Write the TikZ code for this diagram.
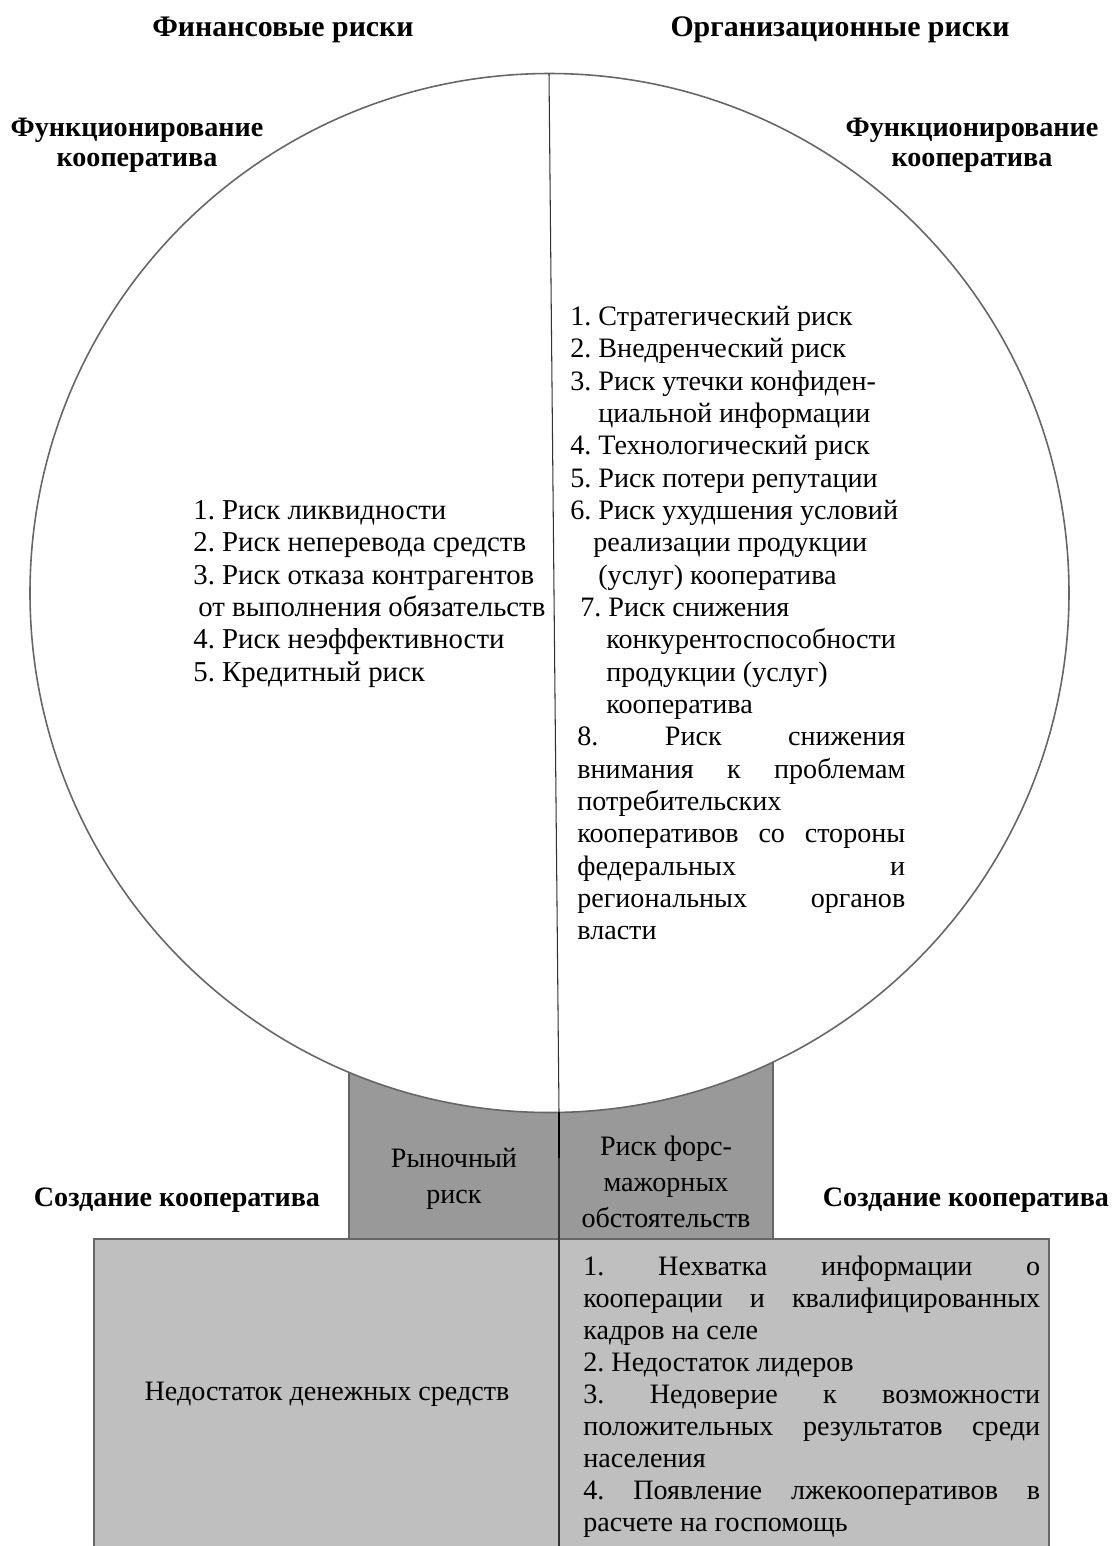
\documentclass[tikz,border=0pt]{standalone}
\usepackage{fontspec}
\setmainfont{Liberation Serif}
\usetikzlibrary{calc}
\frenchspacing

\tikzset{
  head/.style={font=\fontsize{17}{17}\selectfont\bfseries, align=center, inner sep=0pt},
  subhead/.style={font=\fontsize{16}{17}\selectfont\bfseries, align=center, inner sep=0pt},
  risklist/.style={font=\fontsize{16}{18.4}\selectfont, align=left, anchor=north west, inner sep=0pt},
  boxtext/.style={font=\fontsize{16}{20.4}\selectfont, align=center, inner sep=0pt},
  rim/.style={draw=black!60, line width=0.9pt},
}
\newcommand{\jline}[2]{\makebox[#1cm][s]{#2}}

\begin{document}
\begin{tikzpicture}[x=0.02cm, y=-0.02cm]
	\clip (0,0) rectangle (1113,1546);
	\coordinate (C) at (549.5,593);
	\def\rad{519.5}

	% Draw boxes under the circle
	\fill[black!40] (349,1040) rectangle (773,1239);
	\draw[rim] (349,1040) -- (349,1239) (773,1040) -- (773,1239);
	\fill[black!25] (94,1239) rectangle (1049,1560);
	\draw[rim] (94,1560) -- (94,1239) -- (1049,1239) -- (1049,1560);

	% Draw circle
	\draw[rim, fill=white] (C) circle (\rad);

	% Divider
	\coordinate (Top) at (549,{593-\rad});
	\coordinate (Bot) at (559,1112);
	\coordinate (Mid) at (559,1158);
	\coordinate (End) at (559,1560);
	\draw[black!80, line width=0.6pt] (Top) -- (Bot);
	\draw[black, line width=1.5pt] (Bot) -- (Mid);
	\draw[black!80, line width=0.6pt] (Mid) -- (End);

	% Headings
	\node[head] (fin) at (283,30) {Финансовые риски};
	\node[head] (org) at (840,30) {Организационные риски};
	\node[subhead] (funcL) at (137,145) {Функционирование\\кооператива};
	\node[subhead] (funcR) at (972,145) {Функционирование\\кооператива};
	\node[subhead] (createL) at (177,1200) {Создание кооператива};
	\node[subhead] (createR) at (966,1200) {Создание кооператива};

	% Lists in the circle
	\node[risklist, font=\fontsize{16.4}{18.4}\selectfont] (finlist) at (193,500) {1. Риск ликвидности\\
		2. Риск неперевода средств\\
		3. Риск отказа контрагентов\\
		\hspace*{0.1cm}от выполнения обязательств\\
		4. Риск неэффективности\\
		5. Кредитный риск};
	\node[risklist] (orglist) at (570,306) {1. Стратегический риск\\
		2. Внедренческий риск\\
		3. Риск утечки конфиден-\\
		\hspace*{0.56cm}циальной информации\\
		4. Технологический риск\\
		5. Риск потери репутации\\
		6. Риск ухудшения условий\\
		\hspace*{0.46cm}реализации продукции\\
		\hspace*{0.56cm}(услуг) кооператива\\
		\hspace*{0.2cm}7. Риск снижения\\
		\hspace*{0.72cm}конкурентоспособности\\
		\hspace*{0.72cm}продукции (услуг)\\
		\hspace*{0.72cm}кооператива\\
		\hspace*{0.14cm}\jline{6.56}{8. Риск снижения}\\
		\hspace*{0.14cm}\jline{6.56}{внимания к проблемам}\\
		\hspace*{0.14cm}потребительских\\
		\hspace*{0.14cm}\jline{6.56}{кооперативов со стороны}\\
		\hspace*{0.14cm}\jline{6.56}{федеральных и}\\
		\hspace*{0.14cm}\jline{6.56}{региональных органов}\\
		\hspace*{0.14cm}власти};

	% Texts in the grey boxes
	\node[boxtext] (market) at (454,1179) {Рыночный\\риск};
	\node[boxtext] (force) at (666,1182) {Риск форс-\\мажорных\\обстоятельств};
	\node[boxtext] (money) at (327,1394) {Недостаток денежных средств};
	\node[risklist, font=\fontsize{16}{18.2}\selectfont] (create) at (583,1256) {\jline{9.14}{1. Нехватка информации о}\\
		\jline{9.14}{кооперации и квалифицированных}\\
		кадров на селе\\
		2. Недостаток лидеров\\
		\jline{9.14}{3. Недоверие к возможности}\\
		\jline{9.14}{положительных результатов среди}\\
		населения\\
		\jline{9.14}{4. Появление лжекооперативов в}\\
		расчете на госпомощь};
\end{tikzpicture}
\end{document}
